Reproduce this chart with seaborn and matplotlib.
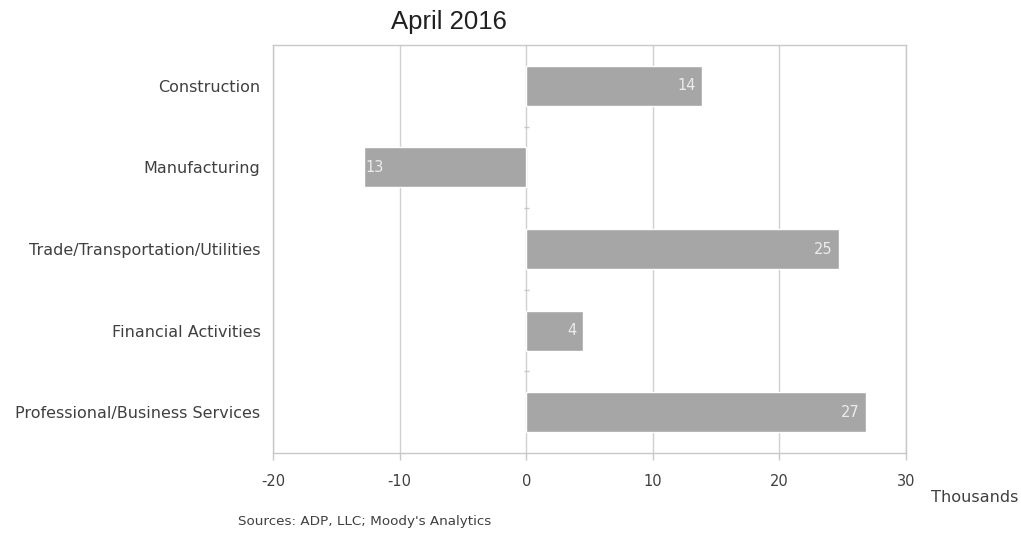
import matplotlib
matplotlib.use("Agg")
import matplotlib.pyplot as plt
import seaborn as sns
import pandas as pd

sectors = [
    "Construction",
    "Manufacturing",
    "Trade/Transportation/Utilities",
    "Financial Activities",
    "Professional/Business Services",
]
change_thousands = [13.9, -12.8, 24.7, 4.5, 26.8]
x_ticks = [-20, -10, 0, 10, 20, 30]

df = pd.DataFrame({"sector": sectors, "change": change_thousands})

sns.set_theme(style="white")
plt.rcParams["font.family"] = ["DejaVu Sans"]

fig = plt.figure(figsize=(10.21, 5.33), dpi=100)
ax = fig.add_axes([0.2674, 0.150, 0.6200, 0.7656])

bar_color = "#a6a6a6"
sns.barplot(data=df, y="sector", x="change", orient="h", color=bar_color,
            saturation=1, width=0.49, ax=ax)

ax.set_xlim(x_ticks[0], x_ticks[-1])
ax.set_ylim(len(sectors) - 0.5, -0.5)
ax.set_xticks(x_ticks)
ax.set_xticklabels([str(t) for t in x_ticks])
ax.set_xlabel("")
ax.set_ylabel("")

ax.grid(axis="x", color="#d0d0d0", linewidth=1)
ax.set_axisbelow(True)
for s in ax.spines.values():
    s.set_color("#c8c8c8")
    s.set_linewidth(1)

ax.tick_params(axis="x", bottom=True, length=5, color="#c8c8c8", width=1,
               labelsize=10.5, labelcolor="#404040", pad=10)
ax.tick_params(axis="y", left=False, length=0, labelsize=11.5,
               labelcolor="#404040", pad=9)

# small tick marks on the zero line between categories
for i in range(len(sectors) - 1):
    ax.hlines(i + 0.5, -0.2, 0.2, color="#c8c8c8", linewidth=1, zorder=1)

# value labels inside the bar ends
for i, v in enumerate(change_thousands):
    if v >= 0:
        ax.text(v - 0.5, i, f"{abs(v):.0f}", ha="right", va="center",
                color="#ececec", fontsize=10.5)
    else:
        ax.text(v + 0.1, i, f"{abs(v):.0f}", ha="left", va="center",
                color="#ececec", fontsize=10.5)

fig.text(449 / 1021, 1 - 22 / 533, "April 2016", ha="center", va="center",
         fontsize=18.5, color="#202020", family="Liberation Sans")
fig.text(1018 / 1021, 1 - 497 / 533, "Thousands", ha="right", va="center",
         fontsize=11.6, color="#404040")
fig.text(238 / 1021, 1 - 522 / 533, "Sources: ADP, LLC; Moody's Analytics",
         ha="left", va="center", fontsize=9.7, color="#404040")

fig.savefig("out.png", dpi=100, facecolor="white")
